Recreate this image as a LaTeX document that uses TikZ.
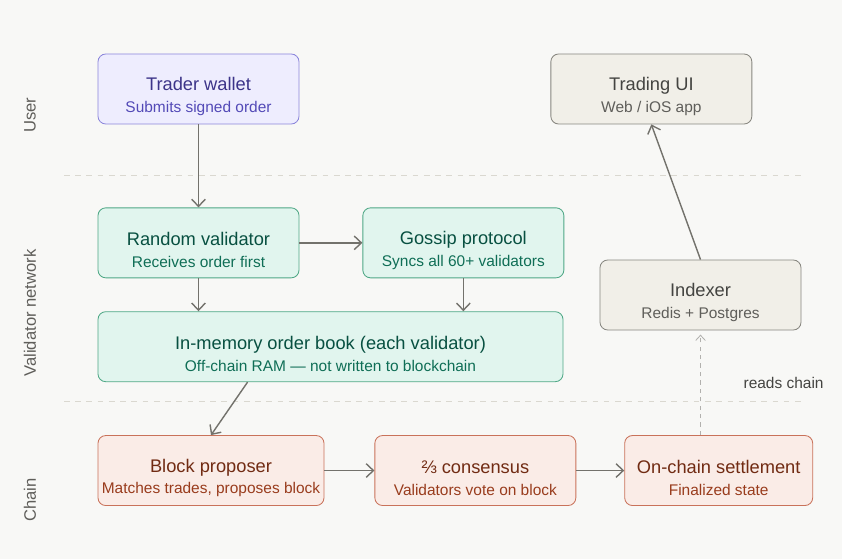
\documentclass[tikz,border=0pt]{standalone}
\usepackage{fontspec}
\setmainfont{Liberation Sans}
\usepackage{xcolor}
\usetikzlibrary{positioning,arrows.meta}
\definecolor{pagebg}{HTML}{F8F8F6}
\definecolor{walletfill}{HTML}{EEEDFE}
\definecolor{walletdraw}{HTML}{8B85DB}
\definecolor{wallettitle}{HTML}{3C3489}
\definecolor{walletsub}{HTML}{534AB7}
\definecolor{netfill}{HTML}{E1F5EE}
\definecolor{netdraw}{HTML}{4FA886}
\definecolor{nettitle}{HTML}{085041}
\definecolor{netsub}{HTML}{0F6E56}
\definecolor{appfill}{HTML}{F1EFE8}
\definecolor{appdraw}{HTML}{888780}
\definecolor{apptitle}{HTML}{444441}
\definecolor{appsub}{HTML}{5F5E5A}
\definecolor{chainfill}{HTML}{FAECE7}
\definecolor{chaindraw}{HTML}{C9725A}
\definecolor{chaintitle}{HTML}{712B13}
\definecolor{chainsub}{HTML}{993C1D}
\definecolor{flowgray}{HTML}{73726C}
\definecolor{lanegray}{HTML}{DAD8D0}
% title line with a tall strut so the pair sits a little low, then the subtitle
\newcommand{\nodetext}[3]{\rule{0pt}{20pt}#2\\{\fontsize{11}{13}\selectfont\color{#1}#3}}
\tikzset{
    flowbox/.style={draw, rounded corners=5.5pt, line width=0.6pt, align=center, minimum width=5.025cm, minimum height=1.75cm, inner sep=0pt, font=\fontsize{13}{15.6}\selectfont},
    walletbox/.style={flowbox, fill=walletfill, draw=walletdraw, text=wallettitle},
    netbox/.style={flowbox, fill=netfill, draw=netdraw, text=nettitle},
    appbox/.style={flowbox, fill=appfill, draw=appdraw, text=apptitle},
    chainbox/.style={flowbox, fill=chainfill, draw=chaindraw, text=chaintitle},
    flowarrow/.style={draw=flowgray, line width=1pt, -{Straight Barb[length=1.8mm, width=3.4mm]}},
    readarrow/.style={draw=flowgray!55, line width=0.6pt, dashed, -{Straight Barb[length=1.3mm, width=2.4mm]}},
    laneline/.style={draw=lanegray, line width=0.6pt, dash pattern=on 4pt off 4pt},
    lanelabel/.style={rotate=90, text=appsub, font=\fontsize{11.8}{13}\selectfont}
}
\begin{document}
\begin{tikzpicture}[node distance=0.825cm and 1.575cm]
    \fill[pagebg] (0,0) rectangle (21.05,-13.975);
    \useasboundingbox (0,0) rectangle (21.05,-13.975);

    % lanes
    \draw[laneline] (1.6,-4.375) -- (20.1,-4.375);
    \draw[laneline] (1.6,-10.025) -- (20.1,-10.025);
    \node[lanelabel] (laneuser) at (0.75,-2.875) {User};
    \node[lanelabel] (lanenet) at (0.75,-7.825) {Validator network};
    \node[lanelabel] (lanechain) at (0.75,-12.5) {Chain};

    \node[walletbox] (wallet) at (4.9625,-2.225) {\nodetext{walletsub}{Trader wallet}{Submits signed order}};
    \node[appbox, right=6.275cm of wallet] (ui) {\nodetext{appsub}{Trading UI}{Web / iOS app}};
    \node[netbox, below=2.075cm of wallet] (random) {\nodetext{netsub}{Random validator}{Receives order first}};
    \node[netbox, right=of random] (gossip) {\nodetext{netsub}{Gossip protocol}{Syncs all 60+ validators}};
    \node[netbox, minimum width=11.625cm, below right=0.825cm and 0cm of random.south west] (book) {\nodetext{netsub}{In-memory order book (each validator)}{Off-chain RAM --- not written to blockchain}};
    \node[appbox] (indexer) at (17.5125,-7.375) {\nodetext{appsub}{Indexer}{Redis + Postgres}};
    \node[chainbox, minimum width=5.65cm, below right=1.325cm and 0cm of book.south west] (proposer) {\nodetext{chainsub}{Block proposer}{Matches trades, proposes block}};
    \node[chainbox, right=1.25cm of proposer] (consensus) {\nodetext{chainsub}{⅔ consensus}{Validators vote on block}};
    \node[chainbox, minimum width=4.7cm, right=1.2cm of consensus] (settle) {\nodetext{chainsub}{On-chain settlement}{Finalized state}};

    \draw[flowarrow] (wallet) -- (random);
    \draw[flowarrow] (random) -- (gossip);
    \draw[flowarrow] (random) -- (random |- book.north);
    \draw[flowarrow] (gossip) -- (gossip |- book.north);
    \draw[flowarrow] ([xshift=3.75cm]book.south west) -- (proposer.north);
    \draw[flowarrow] (proposer) -- (consensus);
    \draw[flowarrow] (consensus) -- (settle);
    \draw[readarrow, shorten >=3pt] (indexer.south |- settle.north) -- (indexer.south)
        node[midway, right=0.95cm, text=apptitle, font=\fontsize{11}{13}\selectfont] (reads) {reads chain};
    \draw[flowarrow] (indexer.north) -- (ui.south);
\end{tikzpicture}
\end{document}
